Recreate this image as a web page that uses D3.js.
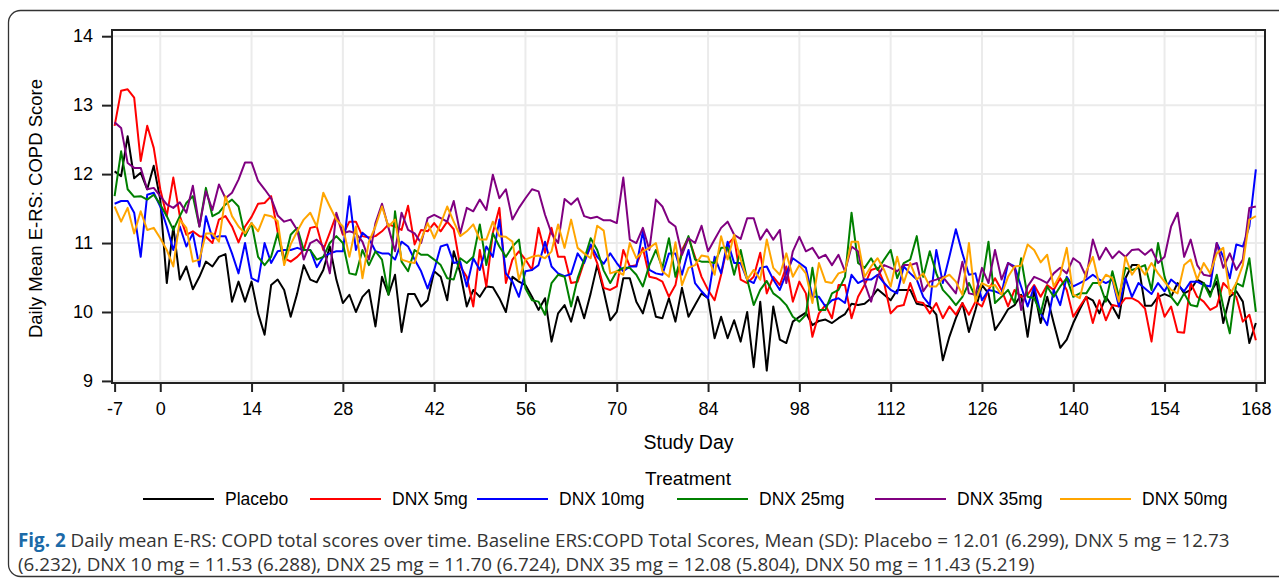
<!DOCTYPE html>
<html>
<meta charset="utf-8">
<title>Daily mean E-RS: COPD</title>
<script src="https://d3js.org/d3.v7.min.js" charset="utf-8"></script>
<style>
	body { margin: 0; background: #fff; }
	text { font-family: "Liberation Sans", Arial, sans-serif; fill: #000; }
	.grid line { stroke: #ebebeb; stroke-width: 2; }
	.caption { font-family: "Open Sans", sans-serif; font-size: 18.8px; fill: #333; }
</style>
<body>
<script>

	// study day -7 .. 168, one value per day
	var placebo = [
		12.04, 11.97, 12.55, 11.94, 12.02, 11.78, 12.12,
		11.63, 10.42, 11.24, 10.47, 10.66, 10.33, 10.51,
		10.73, 10.66, 10.80, 10.84, 10.15, 10.44, 10.15,
		10.44, 9.98, 9.67, 10.39, 10.47, 10.32, 9.93,
		10.27, 10.68, 10.47, 10.43, 10.61, 10.95, 10.47,
		10.13, 10.25, 10.00, 10.22, 10.32, 9.79, 10.51,
		10.25, 10.54, 9.71, 10.26, 10.26, 10.08, 10.17,
		10.59, 10.51, 10.17, 10.88, 10.57, 10.08, 10.32,
		10.22, 10.37, 10.36, 10.20, 10.00, 10.51, 10.44,
		10.39, 10.22, 10.03, 10.20, 9.57, 9.98, 10.10,
		9.86, 10.22, 9.91, 10.27, 10.68, 10.30, 9.88,
		10.00, 10.49, 10.49, 10.15, 9.98, 10.32, 9.93,
		9.91, 10.20, 9.86, 10.35, 9.93, 10.10, 10.27,
		10.20, 9.62, 9.93, 9.62, 9.88, 9.57, 10.00,
		9.20, 10.15, 9.15, 10.08, 9.60, 9.55, 9.86,
		9.93, 9.99, 9.81, 9.87, 9.89, 9.84, 9.91,
		9.97, 10.12, 10.10, 10.12, 10.20, 10.33, 10.25,
		10.17, 10.32, 10.32, 10.32, 10.12, 10.10, 10.08,
		9.96, 9.30, 9.64, 9.91, 10.13, 9.71, 10.03,
		10.39, 10.27, 9.74, 9.88, 10.04, 10.10, 10.25,
		9.64, 10.32, 9.84, 10.22, 9.84, 9.48, 9.60,
		9.84, 10.04, 10.22, 10.17, 9.98, 10.22, 10.08,
		9.91, 10.49, 10.68, 10.68, 10.09, 10.09, 10.22,
		10.26, 10.22, 10.42, 10.27, 10.32, 10.47, 10.42,
		10.27, 10.44, 9.84, 10.22, 10.30, 10.15, 9.55,
		9.84];

	var dnx5 = [
		12.70, 13.21, 13.23, 13.11, 12.19, 12.70, 12.38,
		11.78, 11.39, 11.95, 11.39, 11.12, 11.17, 11.10,
		11.09, 11.00, 11.34, 11.39, 11.24, 11.01, 11.24,
		11.38, 11.57, 11.58, 11.68, 11.16, 10.78, 10.73,
		10.80, 10.90, 11.22, 11.24, 10.90, 11.15, 11.41,
		11.12, 11.31, 11.31, 11.10, 11.08, 11.10, 11.17,
		11.27, 11.24, 11.19, 11.54, 10.98, 11.19, 11.17,
		11.29, 11.17, 11.31, 11.20, 10.66, 10.51, 10.08,
		10.90, 10.37, 11.15, 11.51, 10.42, 10.76, 10.88,
		10.76, 10.61, 11.22, 10.86, 11.22, 10.80, 10.80,
		10.42, 10.44, 10.73, 10.95, 10.71, 10.35, 10.32,
		10.37, 10.90, 10.66, 10.68, 10.93, 10.51, 10.49,
		10.44, 10.22, 10.39, 10.90, 11.08, 10.80, 10.51,
		10.32, 10.17, 10.54, 10.98, 11.08, 10.47, 10.42,
		10.51, 10.86, 10.27, 10.51, 10.39, 10.66, 10.15,
		10.44, 10.27, 9.64, 9.98, 10.10, 9.91, 10.39,
		10.39, 9.91, 10.22, 10.39, 10.61, 10.64, 10.42,
		9.98, 10.08, 10.10, 10.42, 10.15, 10.13, 9.98,
		10.13, 9.91, 10.08, 9.96, 10.13, 9.96, 10.15,
		10.08, 10.32, 10.49, 10.32, 10.08, 10.32, 10.22,
		10.25, 10.39, 10.22, 10.39, 10.32, 10.49, 10.32,
		9.93, 10.08, 10.22, 9.84, 10.17, 9.88, 10.10,
		10.08, 10.20, 10.20, 10.15, 10.05, 9.57, 10.27,
		9.93, 10.08, 9.71, 9.70, 10.42, 10.22, 10.15,
		10.03, 10.08, 10.42, 10.32, 10.22, 9.86, 9.96,
		9.59];

	var dnx10 = [
		11.57, 11.61, 11.61, 11.44, 10.80, 11.70, 11.73,
		11.53, 11.24, 10.90, 11.24, 10.95, 11.14, 10.66,
		11.39, 11.07, 11.10, 11.10, 10.85, 10.56, 11.00,
		10.49, 10.44, 11.00, 10.71, 10.88, 10.90, 10.90,
		10.93, 10.90, 10.90, 10.65, 10.80, 10.85, 10.88,
		10.88, 11.68, 10.90, 11.15, 11.07, 10.88, 10.85,
		10.85, 10.76, 11.02, 10.95, 10.76, 10.59, 10.34,
		10.61, 10.95, 10.98, 10.71, 10.73, 10.37, 10.78,
		10.61, 10.95, 10.80, 11.34, 10.56, 10.44, 10.22,
		10.59, 10.61, 10.68, 11.02, 10.66, 10.56, 10.52,
		10.55, 10.85, 10.71, 10.98, 10.80, 10.70, 10.85,
		10.71, 10.59, 10.66, 10.66, 11.17, 10.61, 10.56,
		10.54, 10.85, 10.85, 10.54, 10.90, 10.42, 10.30,
		10.20, 10.80, 10.56, 11.02, 10.71, 10.71, 10.47,
		10.42, 10.64, 10.66, 10.47, 10.32, 10.56, 10.78,
		10.71, 10.64, 10.22, 10.22, 10.08, 10.17, 10.20,
		10.13, 10.54, 10.42, 10.47, 10.47, 10.54, 10.42,
		10.32, 10.27, 10.66, 10.56, 10.47, 10.22, 10.10,
		10.90, 10.42, 10.80, 11.20, 10.85, 10.54, 10.56,
		10.17, 10.32, 10.30, 10.26, 10.71, 10.66, 10.37,
		10.08, 10.37, 9.98, 9.81, 10.32, 10.10, 10.51,
		10.37, 10.42, 10.47, 10.54, 10.47, 10.42, 10.47,
		10.08, 10.49, 10.22, 10.42, 10.34, 10.26, 10.42,
		10.30, 10.47, 10.39, 10.30, 10.44, 10.44, 10.39,
		10.37, 11.00, 10.80, 10.49, 10.98, 10.95, 11.24,
		12.07];

	var dnx25 = [
		11.68, 12.33, 11.78, 11.67, 11.68, 11.63, 11.70,
		11.56, 11.39, 11.19, 11.39, 11.58, 11.68, 11.24,
		11.80, 11.39, 11.44, 11.56, 11.63, 11.53, 11.10,
		11.29, 10.80, 10.68, 10.80, 11.14, 10.73, 11.12,
		11.22, 10.90, 10.90, 10.76, 10.80, 11.00, 11.10,
		11.00, 10.56, 10.54, 10.90, 10.68, 10.88, 10.76,
		10.25, 11.46, 10.73, 10.59, 10.90, 10.83, 10.83,
		10.76, 10.68, 10.49, 10.47, 10.78, 10.71, 10.80,
		11.27, 10.68, 11.14, 10.95, 10.80, 10.95, 11.05,
		10.34, 10.17, 10.15, 9.96, 10.42, 10.54, 10.51,
		10.08, 10.49, 10.76, 11.07, 10.90, 10.60, 10.42,
		10.59, 10.64, 10.64, 10.54, 10.37, 10.68, 10.90,
		10.64, 11.07, 10.51, 10.85, 11.10, 10.76, 10.73,
		10.73, 10.71, 10.93, 10.93, 10.54, 10.90, 10.47,
		10.10, 10.32, 10.45, 10.27, 10.20, 10.10, 9.93,
		9.86, 9.96, 10.64, 10.03, 10.03, 10.27, 10.32,
		10.51, 11.44, 10.71, 10.64, 10.78, 10.61, 10.76,
		10.90, 10.49, 10.71, 10.76, 11.10, 10.51, 10.88,
		10.56, 10.32, 10.22, 10.10, 10.22, 10.42, 10.22,
		10.42, 11.02, 10.13, 10.22, 10.32, 10.13, 10.78,
		10.22, 10.20, 9.98, 10.37, 10.22, 10.37, 10.49,
		10.22, 10.27, 10.27, 10.42, 10.42, 10.15, 10.59,
		10.22, 10.64, 10.61, 10.64, 10.68, 10.32, 11.00,
		10.51, 10.22, 10.10, 10.27, 10.10, 10.08, 10.42,
		10.22, 10.54, 10.08, 9.69, 10.42, 10.37, 10.78,
		10.00];

	var dnx35 = [
		12.75, 12.67, 12.16, 12.09, 12.09, 11.78, 11.80,
		11.68, 11.56, 11.51, 11.59, 11.44, 11.83, 11.24,
		11.75, 11.48, 11.85, 11.65, 11.73, 11.92, 12.17,
		12.17, 11.90, 11.78, 11.65, 11.40, 11.31, 11.34,
		11.19, 10.76, 11.00, 11.05, 10.95, 10.56, 11.44,
		11.14, 11.17, 11.14, 11.02, 10.76, 11.29, 11.57,
		11.22, 10.88, 11.44, 11.19, 11.14, 11.00, 11.36,
		11.41, 11.36, 11.31, 11.61, 11.14, 11.51, 11.46,
		11.63, 11.48, 11.99, 11.65, 11.78, 11.34, 11.51,
		11.65, 11.78, 11.75, 11.41, 11.14, 11.00, 11.64,
		11.56, 11.65, 11.39, 11.36, 11.38, 11.33, 11.33,
		11.29, 11.95, 11.05, 11.00, 11.22, 10.90, 11.63,
		11.53, 11.31, 11.24, 10.83, 11.07, 11.00, 11.25,
		10.88, 11.05, 11.22, 11.31, 11.12, 11.06, 11.36,
		11.36, 11.05, 11.20, 11.05, 11.19, 10.42, 10.88,
		11.09, 10.88, 10.93, 10.78, 10.83, 10.68, 10.83,
		10.59, 10.95, 10.88, 10.42, 10.15, 10.51, 10.68,
		10.64, 10.59, 10.68, 10.68, 10.71, 10.30, 10.44,
		10.47, 10.51, 10.39, 10.27, 10.73, 10.27, 10.25,
		10.64, 10.42, 10.90, 10.47, 10.71, 10.64, 10.03,
		10.37, 10.51, 10.47, 10.42, 10.56, 10.64, 10.56,
		10.78, 10.71, 10.51, 11.05, 10.76, 10.93, 10.78,
		10.88, 10.80, 10.90, 10.91, 10.83, 10.91, 10.71,
		10.80, 11.24, 11.44, 10.80, 11.05, 10.68, 10.54,
		10.52, 11.00, 10.64, 10.85, 10.61, 10.76, 11.51,
		11.53];

	var dnx50 = [
		11.53, 11.31, 11.51, 11.14, 11.46, 11.19, 11.22,
		11.07, 10.90, 10.66, 11.34, 11.22, 10.73, 10.76,
		11.14, 11.14, 11.02, 11.68, 11.39, 11.24, 11.14,
		11.29, 11.17, 11.41, 11.39, 11.32, 10.68, 10.98,
		11.17, 11.34, 11.44, 11.24, 11.73, 11.53, 11.34,
		11.24, 10.80, 11.24, 10.49, 11.02, 11.24, 11.53,
		11.24, 11.34, 10.76, 10.73, 10.71, 11.05, 11.29,
		11.07, 11.28, 11.53, 11.31, 11.10, 11.17, 11.27,
		11.05, 11.05, 11.31, 11.10, 11.09, 11.02, 10.47,
		10.76, 10.80, 10.82, 10.78, 10.88, 11.27, 10.93,
		11.34, 10.93, 10.85, 10.78, 11.25, 11.18, 10.56,
		10.59, 10.54, 11.00, 10.78, 10.88, 10.93, 11.00,
		10.59, 10.51, 11.01, 10.39, 10.64, 10.68, 10.82,
		10.80, 10.54, 11.10, 10.76, 11.12, 10.76, 10.47,
		10.61, 10.47, 11.05, 10.64, 10.54, 10.85, 10.51,
		10.68, 10.56, 10.13, 10.71, 10.44, 10.42, 10.56,
		10.59, 11.02, 11.02, 10.51, 10.66, 10.78, 10.61,
		10.37, 10.80, 10.42, 10.71, 10.47, 10.56, 10.37,
		10.37, 10.49, 10.54, 10.44, 10.25, 11.00, 10.15,
		10.42, 10.37, 10.39, 10.25, 10.51, 10.66, 10.67,
		10.98, 10.90, 10.72, 10.83, 10.37, 10.54, 10.93,
		10.25, 10.20, 10.59, 10.80, 10.39, 10.54, 10.49,
		10.15, 10.80, 10.54, 10.68, 10.54, 10.71, 10.56,
		10.44, 10.32, 10.27, 10.68, 10.76, 10.47, 10.71,
		10.56, 10.85, 10.93, 10.25, 10.42, 10.68, 11.34,
		11.39];

	var firstDay = -7;
	var seriesNames = ["Placebo", "DNX 5mg", "DNX 10mg", "DNX 25mg", "DNX 35mg", "DNX 50mg"];
	var seriesColors = ["#000000", "#ff0000", "#0000ff", "#008000", "#800080", "#ffa500"];
	var seriesValues = [placebo, dnx5, dnx10, dnx25, dnx35, dnx50];
	var xTicks = [-7, 0, 14, 28, 42, 56, 70, 84, 98, 112, 126, 140, 154, 168];
	var yTicks = [9, 10, 11, 12, 13, 14];
	var legendX = [143, 310, 477, 677, 875, 1060];

	var W = 1279, H = 578;
	var plot = {left: 112, right: 1265, top: 30, bottom: 383};

	var x = d3.scaleLinear().domain([-7.4, 169.4]).range([plot.left, plot.right]);
	var y = d3.scaleLinear().domain([8.97, 14.09]).range([plot.bottom, plot.top]);

	var svg = d3.select("body").append("svg")
		.attr("width", W)
		.attr("height", H);

	// outer figure border
	svg.append("rect")
		.attr("x", 8.5).attr("y", 10.5)
		.attr("width", 1300).attr("height", 566)
		.attr("rx", 12)
		.attr("fill", "none")
		.attr("stroke", "#333")
		.attr("stroke-width", 1.3);

	// grid
	var grid = svg.append("g").attr("class", "grid");
	grid.selectAll(".gy").data(yTicks).enter().append("line")
		.attr("x1", plot.left).attr("x2", plot.right)
		.attr("y1", function(d) { return y(d); })
		.attr("y2", function(d) { return y(d); });
	grid.selectAll(".gx").data(xTicks.filter(function(d) { return d !== -7; })).enter().append("line")
		.attr("y1", plot.top).attr("y2", plot.bottom)
		.attr("x1", function(d) { return x(d); })
		.attr("x2", function(d) { return x(d); });

	// series lines
	var line = d3.line()
		.x(function(d, i) { return x(firstDay + i); })
		.y(function(d) { return y(d); });

	svg.append("g").selectAll("path")
		.data(seriesValues).enter().append("path")
		.attr("d", line)
		.attr("fill", "none")
		.attr("stroke", function(d, i) { return seriesColors[i]; })
		.attr("stroke-width", 2)
		.attr("stroke-linejoin", "round");

	// frame
	svg.append("rect")
		.attr("x", plot.left).attr("y", plot.top)
		.attr("width", plot.right - plot.left)
		.attr("height", plot.bottom - plot.top)
		.attr("fill", "none")
		.attr("stroke", "#222")
		.attr("stroke-width", 2);

	// axes
	var xAxis = svg.append("g")
		.attr("transform", "translate(0," + plot.bottom + ")")
		.call(d3.axisBottom(x).tickValues(xTicks).tickSize(9).tickPadding(10)
			.tickFormat(function(d) { return d < 0 ? "-" + Math.abs(d) : d; }));
	var yAxis = svg.append("g")
		.attr("transform", "translate(" + plot.left + ",0)")
		.call(d3.axisLeft(y).tickValues(yTicks).tickSize(10).tickPadding(9).tickFormat(d3.format("d")));

	[xAxis, yAxis].forEach(function(a) {
		a.select(".domain").remove();
		a.selectAll("line").attr("stroke", "#222").attr("stroke-width", 2);
		a.selectAll("text")
			.attr("fill", "#000")
			.style("font-family", "Liberation Sans, Arial, sans-serif")
			.style("font-size", "18px");
	});

	svg.append("text")
		.attr("x", (plot.left + plot.right) / 2)
		.attr("y", 449)
		.attr("text-anchor", "middle")
		.style("font-size", "19.5px")
		.text("Study Day");

	svg.append("text")
		.attr("transform", "translate(42," + ((plot.top + plot.bottom) / 2 + 2) + ")rotate(-90)")
		.attr("text-anchor", "middle")
		.style("font-size", "18.5px")
		.text("Daily Mean E-RS: COPD Score");

	// legend
	svg.append("text")
		.attr("x", 688)
		.attr("y", 485)
		.attr("text-anchor", "middle")
		.style("font-size", "19px")
		.text("Treatment");

	var legend = svg.append("g").selectAll("g")
		.data(seriesNames).enter().append("g")
		.attr("transform", function(d, i) { return "translate(" + legendX[i] + ",499)"; });
	legend.append("line")
		.attr("x2", 71)
		.attr("stroke", function(d, i) { return seriesColors[i]; })
		.attr("stroke-width", 2);
	legend.append("text")
		.attr("x", 82)
		.attr("dy", "0.35em")
		.style("font-size", "17.5px")
		.text(function(d) { return d; });

	// caption
	var cap1 = svg.append("text").attr("class", "caption").attr("x", 18).attr("y", 547);
	cap1.append("tspan").style("font-weight", "bold").style("fill", "#1c6aa8").text("Fig. 2");
	cap1.append("tspan").text(" Daily mean E-RS: COPD total scores over time. Baseline ERS:COPD Total Scores, Mean (SD): Placebo = 12.01 (6.299), DNX 5 mg = 12.73");
	svg.append("text").attr("class", "caption").attr("x", 18).attr("y", 571)
		.text("(6.232), DNX 10 mg = 11.53 (6.288), DNX 25 mg = 11.70 (6.724), DNX 35 mg = 12.08 (5.804), DNX 50 mg = 11.43 (5.219)");

</script>
</body>
</html>
